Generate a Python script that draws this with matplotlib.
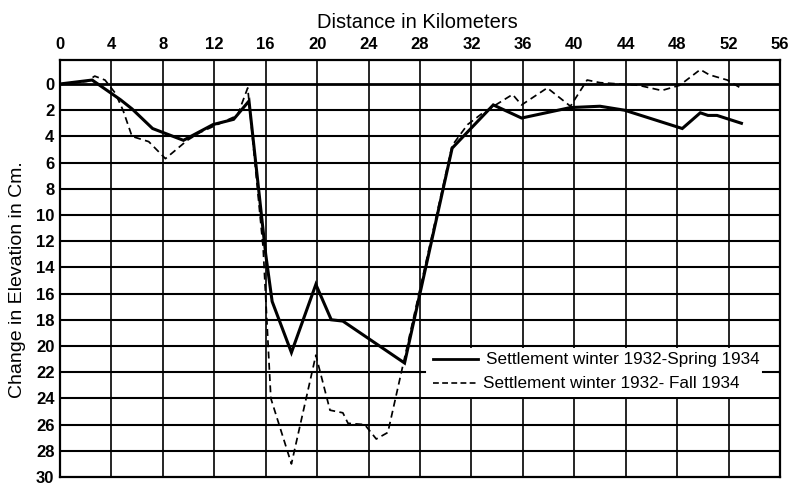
import matplotlib
matplotlib.use("Agg")
import matplotlib.pyplot as plt
from matplotlib.patches import Rectangle

plt.rcParams['font.family'] = ['Liberation Sans', 'DejaVu Sans']

# distance along the line (km) and settlement (cm)
spring_km = [0, 2.5, 4.7, 5.6, 7.2, 9.6, 11.9, 13.5, 14.7, 16.0, 16.5, 18.0, 19.9,
             21.1, 22.0, 26.8, 30.5, 33.7, 35.9, 39.7, 42.0, 43.9, 48.4, 49.8,
             50.4, 51.1, 53.0]
spring_cm = [0, -0.3, 1.2, 1.9, 3.4, 4.3, 3.1, 2.7, 1.3, 13.0, 16.6, 20.5, 15.3,
             18.0, 18.1, 21.3, 4.9, 1.6, 2.6, 1.8, 1.7, 2.0, 3.4, 2.2,
             2.4, 2.4, 3.0]

fall_km = [0, 2.1, 2.7, 3.5, 4.3, 4.9, 5.6, 6.9, 8.2, 9.9, 10.9, 13.8, 14.6, 15.8,
           16.4, 18.0, 19.9, 21.0, 22.0, 22.4, 23.7, 24.6, 25.5, 30.5, 31.7,
           32.9, 35.2, 35.9, 37.9, 39.7, 41.0, 42.0, 45.0, 46.8, 48.2, 49.8,
           50.5, 51.9, 53.1]
fall_cm = [0, -0.2, -0.6, -0.3, 0.7, 2.0, 4.0, 4.4, 5.7, 4.3, 3.7, 2.4, 0.3, 12.5,
           24.0, 29.0, 20.7, 24.9, 25.1, 25.9, 26.0, 27.1, 26.6, 4.7, 3.1,
           2.2, 0.8, 1.6, 0.3, 1.7, -0.3, -0.1, 0.1, 0.5, 0.1, -1.1,
           -0.7, -0.3, 0.4]

x_ticks = list(range(0, 57, 4))
y_ticks = list(range(0, 31, 2))

fig = plt.figure(figsize=(7.9, 4.83), dpi=100)
ax = fig.add_axes([60/790, 1 - 477/483, 720/790, 417/483])
ax.set_xlim(0, 56)
ax.set_ylim(30, -1.83)

# grid by hand so line weights can differ
for x in x_ticks[1:-1]:
    ax.axvline(x, color='black', lw=1.2, zorder=1)
for y in y_ticks[1:-1]:
    ax.axhline(y, color='black', lw=1.5, zorder=1)
ax.axhline(0, color='black', lw=2.0, zorder=1)

ax.plot(spring_km, spring_cm, color='black', lw=2.2, solid_joinstyle='miter', zorder=3)
ax.plot(fall_km, fall_cm, color='black', lw=1.25, dashes=(4, 2.5), zorder=3)

# legend box sits in the grid cells 28-56 km, 20-24 cm
ax.add_patch(Rectangle((28.15, 20.12), 27.7, 3.76, facecolor='white',
                       edgecolor='none', zorder=2))
ax.plot([28, 28.4], [22, 22], color='black', lw=1.5, zorder=2)
ax.plot([54.7, 56], [22, 22], color='black', lw=1.5, zorder=2)
ax.plot([29.0, 32.5], [21.0, 21.0], color='black', lw=2.0, zorder=3)
ax.plot([29.0, 32.4], [22.85, 22.85], color='black', lw=1.2, dashes=(3.5, 2), zorder=3)
ax.text(33.1, 21.0, 'Settlement winter 1932-Spring 1934', fontsize=12.3,
        va='center', ha='left', zorder=4)
ax.text(32.9, 22.85, 'Settlement winter 1932- Fall 1934', fontsize=12.3,
        va='center', ha='left', zorder=4)

ax.xaxis.tick_top()
ax.set_xticks(x_ticks)
ax.set_xticklabels([str(v) for v in x_ticks], fontsize=12, fontweight='bold')
ax.set_yticks(y_ticks)
ax.set_yticklabels([str(v) for v in y_ticks], fontsize=12, fontweight='bold')
ax.tick_params(length=0)
ax.tick_params(axis='y', pad=4)
ax.tick_params(axis='x', pad=6)

for s in ax.spines.values():
    s.set_linewidth(1.6)

fig.text(417/790, 1 - 22/483, 'Distance in Kilometers', fontsize=14.5,
         ha='center', va='center')
fig.text(18/790, 1 - 280/483, 'Change in Elevation in Cm.', fontsize=14,
         ha='center', va='center', rotation=90)

fig.savefig('out.png', dpi=100)
